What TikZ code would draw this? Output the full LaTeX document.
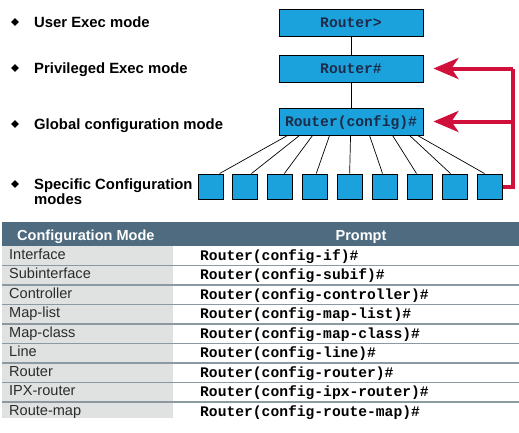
\documentclass[tikz,border=0pt]{standalone}
\usepackage{fontspec}
\setmainfont{Liberation Sans}
\setmonofont{Liberation Mono}
\usetikzlibrary{shapes.geometric,calc,arrows.meta}
\definecolor{boxblue}{HTML}{1BA1DB}
\definecolor{boxtext}{HTML}{1D2B4A}
\definecolor{redline}{HTML}{D0103A}
\definecolor{headbg}{HTML}{4E6B7F}
\definecolor{colgray}{HTML}{DFE2E1}
\definecolor{sepgray}{HTML}{8C99A1}
\definecolor{labeltext}{HTML}{2B2B2B}
\begin{document}
\begin{tikzpicture}[x=1bp,y=-1bp,
  modebox/.style={draw=black,line width=0.9bp,fill=boxblue,minimum width=144bp,minimum height=27bp,inner sep=0pt,text height=12bp,text depth=2bp,font=\fontsize{14.7}{16}\ttfamily\bfseries,text=boxtext},
  subbox/.style={draw=black,line width=0.9bp,fill=boxblue,minimum size=25bp,inner sep=0pt},
  bullet/.style={diamond,fill=black,inner sep=0pt,minimum size=8bp},
  lvl/.style={anchor=base west,inner sep=0pt,font=\fontsize{14.9}{17}\selectfont\bfseries,text=black,align=left},
  fan/.style={line width=0.7bp,black},
  back/.style={line width=4bp,draw=redline,line join=miter},
  backarrow/.style={back,-{Stealth[length=25bp,width=21bp,inset=7bp]}},
  headtxt/.style={anchor=base,inner sep=0pt,font=\fontsize{14.6}{17}\selectfont\bfseries,text=white},
  modetxt/.style={anchor=base west,inner sep=0pt,font=\fontsize{14.6}{17}\selectfont,text=labeltext},
  prompttxt/.style={anchor=base west,inner sep=0pt,font=\fontsize{14.7}{17}\ttfamily\bfseries,text=black},
  sep/.style={line width=1.5bp,draw=sepgray}
]
\useasboundingbox (0,0) rectangle (519,432);

% level labels
\node[bullet] (b1) at (15,22) {};
\node[bullet] (b2) at (15,68) {};
\node[bullet] (b3) at (15,124) {};
\node[bullet] (b4) at (15,184) {};
\node[lvl] (l1) at (34,27) {User Exec mode};
\node[lvl] (l2) at (34,73) {Privileged Exec mode};
\node[lvl] (l3) at (34,129) {Global configuration mode};
\node[lvl] (l4) at (34,189.5) {Specific Configuration};
\node[lvl] (l5) at (34,204.5) {modes};

% mode boxes
\node[modebox] (user) at (351,22.5) {Router>};
\node[modebox] (priv) at (351,68.5) {Router\#};
\node[modebox] (cfg) at (351,121.5) {Router(config)\#};
\draw[fan] (user) -- (priv);
\draw[fan] (priv) -- (cfg);

% specific boxes
\foreach \i in {1,...,9}{
  \node[subbox] (s\i) at ({210.5+34.9*(\i-1)},186.5) {};
}
\foreach \i/\t/\b in {1/9/22,2/21/19,3/34/17,4/51/14,5/72/12.5,6/91/10.5,7/114/9.6,8/131/8.7,9/139/7.8}{
  \draw[fan] ($(cfg.south west)+(\t,0)$) -- ($(s\i.north west)+(\b,0)$);
}

% red return arrows
\coordinate (rb) at (513,186.5);
\coordinate (rt) at (513,68.5);
\coordinate (rm) at (513,121.5);
\draw[back] (s9.east) -- (rb) -- (rt);
\draw[backarrow] (rt) -- ($(priv.east)+(10,0)$);
\draw[backarrow] (rm) -- ($(cfg.east)+(10,0)$);

% table
\fill[headbg] (2,222) rectangle (519,246);
\fill[colgray] (2,246) rectangle (173,418);
\node[headtxt,anchor=base west] (h1) at (17,240) {Configuration Mode};
\node[headtxt] (h2) at (361,240) {Prompt};
\foreach \y in {265.5,285,304.5,324,343.5,363,382.5,402}{
  \draw[sep] (2,\y) -- (519,\y);
}
\foreach \lab/\prm [count=\i from 0] in {
  Interface/{Router(config-if)\#},
  Subinterface/{Router(config-subif)\#},
  Controller/{Router(config-controller)\#},
  Map-list/{Router(config-map-list)\#},
  Map-class/{Router(config-map-class)\#},
  Line/{Router(config-line)\#},
  Router/{Router(config-router)\#},
  IPX-router/{Router(config-ipx-router)\#},
  Route-map/{Router(config-route-map)\#}}{
  \node[modetxt] (m\i) at (9,{259+19.5*\i}) {\lab};
  \node[prompttxt] (p\i) at (200,{260+19.5*\i}) {\prm};
}
\end{tikzpicture}
\end{document}
